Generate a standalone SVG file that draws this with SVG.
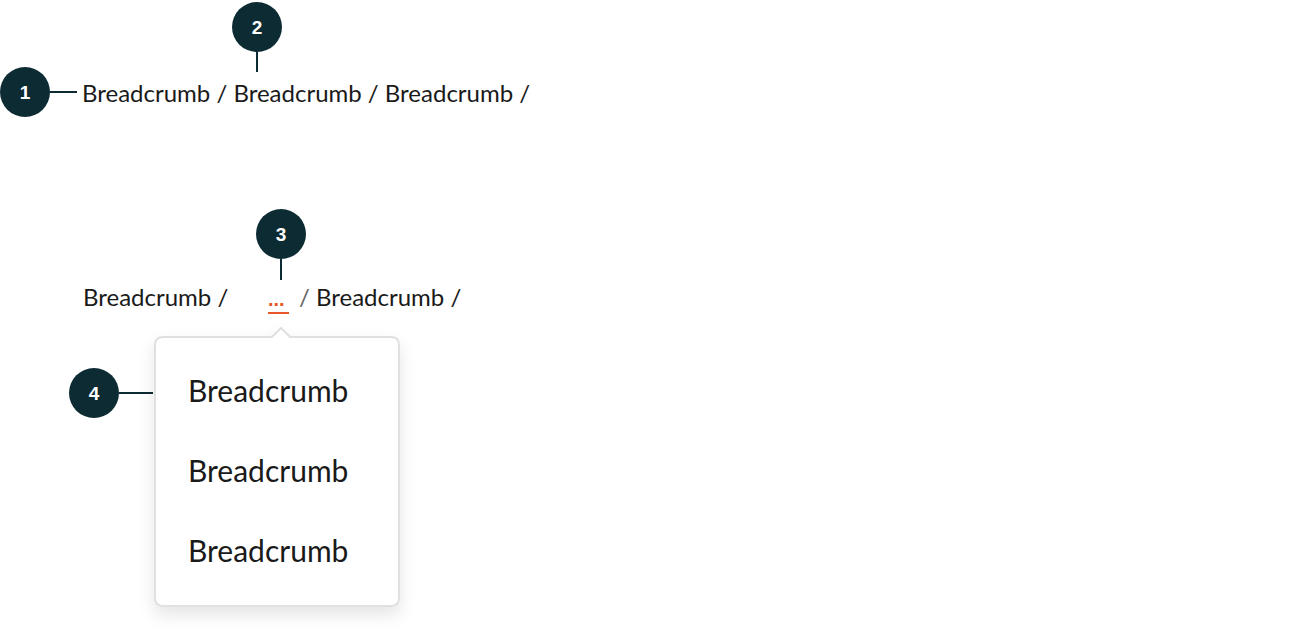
<svg xmlns="http://www.w3.org/2000/svg" width="1300" height="630" viewBox="0 0 1300 630">
<style>
.b{fill:#0d2b33}.n{fill:#fff;font:bold 19px "Liberation Sans",sans-serif;text-anchor:middle}
.t{fill:#1a1a1a;font-family:"Lato","Liberation Sans",sans-serif;font-size:24px}
.m{fill:#1a1a1a;font-family:"Lato","Liberation Sans",sans-serif;font-size:30px}
.c{stroke:#0d2b33;stroke-width:2;fill:none}
</style>
<defs><filter id="sh" x="-20%" y="-20%" width="140%" height="140%"><feDropShadow dx="0" dy="8" stdDeviation="8" flood-color="#000" flood-opacity="0.1"/></filter></defs>
<g id="connectors">
<line class="c" x1="50" y1="92" x2="77" y2="92"/>
<line class="c" x1="257" y1="52" x2="257" y2="72"/>
<line class="c" x1="281" y1="259" x2="281" y2="280"/>
<line class="c" x1="119" y1="393" x2="153" y2="393"/>
</g>
<g id="row1"><text class="t" x="82" y="102">Breadcrumb / Breadcrumb / Breadcrumb /</text></g>
<g id="row2">
<text class="t" x="83" y="306">Breadcrumb /</text>
<text x="268" y="306" style="fill:#e8572a;font:bold 20px 'Liberation Sans',sans-serif">...</text>
<line x1="268" y1="313" x2="289" y2="313" stroke="#e8572a" stroke-width="2"/>
<text class="t" x="299" y="306"><tspan fill="#666">/</tspan> Breadcrumb /</text>
</g>
<g id="popup">
<path d="M163 337H272L281 328L290 337H391Q399 337 399 345V598Q399 606 391 606H163Q155 606 155 598V345Q155 337 163 337Z" fill="#fff" stroke="#e0e0e0" stroke-width="2" filter="url(#sh)"/>
<text class="m" x="188" y="402">Breadcrumb</text>
<text class="m" x="188" y="482">Breadcrumb</text>
<text class="m" x="188" y="562">Breadcrumb</text>
</g>
<g id="n1"><circle class="b" cx="25" cy="92" r="25"/><text class="n" x="25" y="99">1</text></g>
<g id="n2"><circle class="b" cx="257" cy="27" r="25"/><text class="n" x="257" y="34">2</text></g>
<g id="n3"><circle class="b" cx="281" cy="234" r="25"/><text class="n" x="281" y="241">3</text></g>
<g id="n4"><circle class="b" cx="94" cy="393" r="25"/><text class="n" x="94" y="400">4</text></g>
</svg>
